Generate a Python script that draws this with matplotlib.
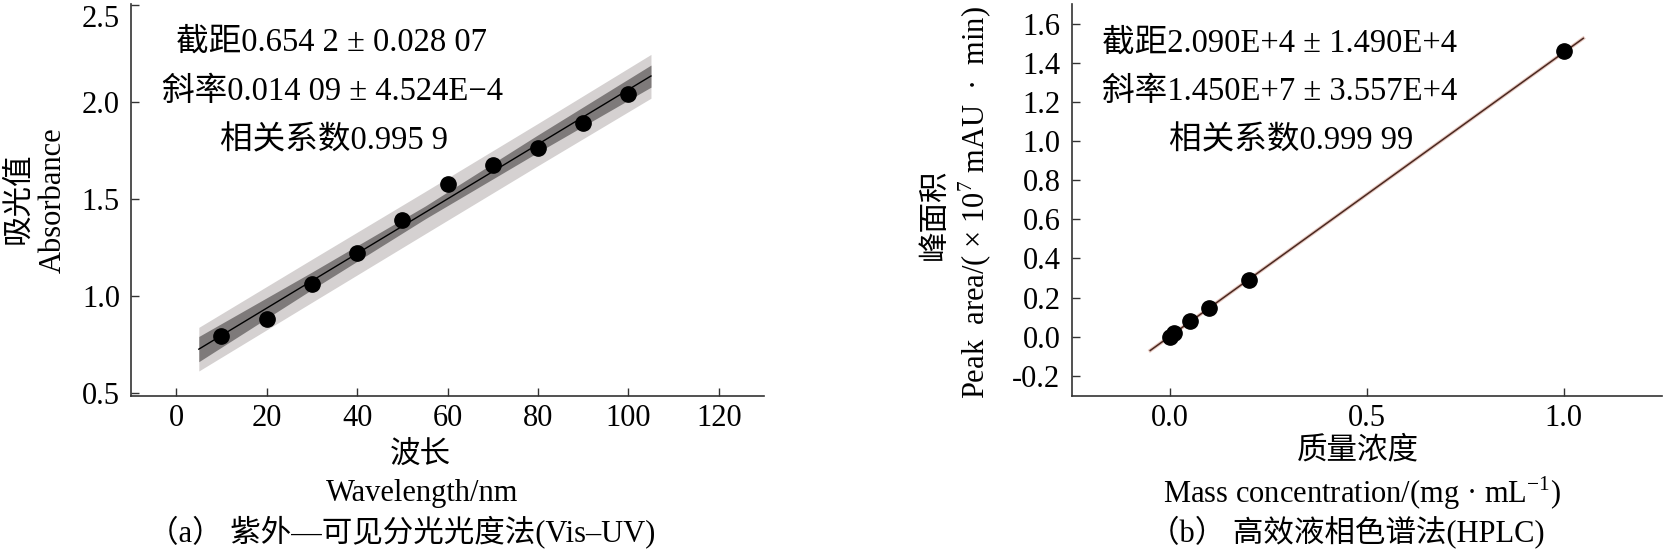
import numpy as np
import matplotlib
matplotlib.use("Agg")
import matplotlib.pyplot as plt

plt.rcParams['font.family'] = ['Liberation Serif', 'Noto Sans CJK SC', 'DejaVu Serif']
plt.rcParams['axes.unicode_minus'] = True
plt.rcParams['mathtext.fontset'] = 'custom'
plt.rcParams['mathtext.rm'] = 'Liberation Serif'

# (a) Vis-UV calibration data
wl = [10, 20, 30, 40, 50, 60, 70, 80, 90, 100]
absorb = [0.79, 0.88, 1.06, 1.22, 1.39, 1.575, 1.675, 1.76, 1.89, 2.04]
a_intercept = 0.6542
a_slope = 0.01409
a_fit_x = [5, 105]
# bands (prediction = light, confidence = dark)
band_x = [5, 30, 55, 80, 105]
pred_lo = [0.612, 0.966, 1.319, 1.671, 2.019]
pred_hi = [0.837, 1.188, 1.537, 1.889, 2.245]
conf_lo = [0.660, 1.032, 1.396, 1.740, 2.076]
conf_hi = [0.790, 1.122, 1.462, 1.830, 2.190]

# (b) HPLC calibration data
conc = [0.0, 0.01, 0.05, 0.1, 0.2, 1.0]
area = [0.0, 0.02, 0.078, 0.145, 0.29, 1.46]
b_intercept = 2.090e4 / 1e7
b_slope = 1.450e7 / 1e7
b_fit_x = [-0.05, 1.05]

W, H = 1663, 551
fig = plt.figure(figsize=(W / 100, H / 100), dpi=100)

def px(x, y):
    return x / W, 1 - y / H

def style(ax):
    for s in ['top', 'right']:
        ax.spines[s].set_visible(False)
    for s in ['left', 'bottom']:
        ax.spines[s].set_color('#333333')
        ax.spines[s].set_linewidth(1.2)
    ax.tick_params(direction='in', length=6, width=1, colors='#333333',
                   labelcolor='black', labelsize=22)
    ax.tick_params(axis='y', pad=8)
    ax.tick_params(axis='x', pad=6)

# ---- left panel
ax1 = fig.add_axes([131 / W, 1 - 396 / H, (764 - 131) / W, 392 / H])
ax1.fill_between(band_x, pred_lo, pred_hi, color='#d5d1d1', lw=0)
ax1.fill_between(band_x, conf_lo, conf_hi, color='#7e7a7a', lw=0)
fx = np.array(a_fit_x)
ax1.plot(fx, a_intercept + a_slope * fx, color='black', lw=1)
ax1.plot(wl, absorb, 'o', color='black', ms=11)
ax1.set_xlim(-10, 130)
ax1.set_ylim(0.483, 2.505)
ax1.set_xticks([0, 20, 40, 60, 80, 100, 120])
ax1.set_yticks([0.5, 1.0, 1.5, 2.0, 2.5])
ax1.yaxis.set_major_formatter(matplotlib.ticker.FormatStrFormatter('%.1f'))
style(ax1)
# top label sits just under its tick so it is not cut off
ax1.yaxis.get_major_ticks()[-1].label1.set_verticalalignment('top')

# ---- right panel
ax2 = fig.add_axes([1071.5 / W, 1 - 396 / H, (1662 - 1071.5) / W, 392 / H])
bx = np.array(b_fit_x)
ax2.plot(bx, b_intercept + b_slope * bx, color='#e6c8c0', lw=2.6)
ax2.plot(bx, b_intercept + b_slope * bx, color='#4a2820', lw=1.1)
ax2.plot(conc, area, 'o', color='black', ms=11)
ax2.set_xlim(-0.25, 1.25)
ax2.set_ylim(-0.303, 1.7)
ax2.set_xticks([0.0, 0.5, 1.0])
ax2.set_yticks(np.arange(-0.2, 1.61, 0.2))
ax2.xaxis.set_major_formatter(matplotlib.ticker.FormatStrFormatter('%.1f'))
ax2.yaxis.set_major_formatter(matplotlib.ticker.FormatStrFormatter('%.1f'))
style(ax2)

fs = 22
fa = 23.5
# annotations
for (x, y), s in zip([(332, 42), (333, 92), (334, 141)],
                     ['截距0.654 2 ± 0.028 07', '斜率0.014 09 ± 4.524E−4', '相关系数0.995 9']):
    fig.text(*px(x, y), s, fontsize=fa, ha='center', va='center')
for (x, y), s in zip([(1280, 43), (1280, 92), (1291, 141)],
                     ['截距2.090E+4 ± 1.490E+4', '斜率1.450E+7 ± 3.557E+4', '相关系数0.999 99']):
    fig.text(*px(x, y), s, fontsize=fa, ha='center', va='center')

# axis labels
fig.text(*px(19, 198), '吸光值', fontsize=fs, rotation=90, ha='center', va='center')
fig.text(*px(53, 200), 'Absorbance', fontsize=fs, rotation=90, ha='center', va='center')
fig.text(*px(420, 455), '波长', fontsize=fs, ha='center', va='center')
fig.text(*px(422, 493), 'Wavelength/nm', fontsize=fs, ha='center', va='center')
fig.text(*px(402, 532), '（a） 紫外—可见分光光度法(Vis–UV)', fontsize=fs, ha='center', va='center')

fig.text(*px(935, 214), '峰面积', fontsize=fs, rotation=90, ha='center', va='center')
fig.text(*px(975, 203), 'Peak  area/( × 10$^{\\mathregular{7}}$ mAU  ·  min)', fontsize=fs,
         rotation=90, ha='center', va='center')
fig.text(*px(1358, 451), '质量浓度', fontsize=fs, ha='center', va='center')
fig.text(*px(1362, 493), 'Mass concentration/(mg · mL$^{\\mathregular{-1}}$)', fontsize=fs,
         ha='center', va='center')
fig.text(*px(1347, 532), '（b） 高效液相色谱法(HPLC)', fontsize=fs, ha='center', va='center')

fig.savefig('out.png', dpi=100)
